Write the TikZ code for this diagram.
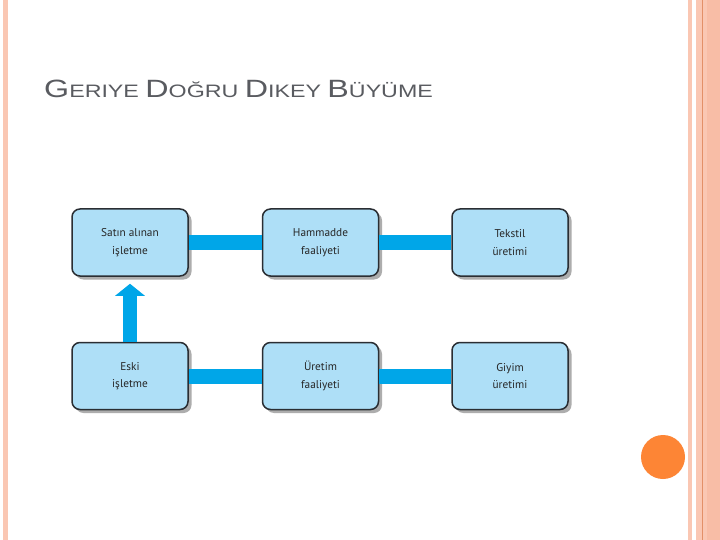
\documentclass[tikz,border=0pt]{standalone}
\usepackage{fontspec}
\setmainfont{Liberation Sans}
\newfontfamily\boxfont{PT Sans}
\usetikzlibrary{arrows.meta,shadows}
\definecolor{boxfill}{HTML}{AEDFF7}
\definecolor{boxline}{HTML}{2A2E33}
\definecolor{barblue}{HTML}{00A6E8}
\definecolor{salmon}{HTML}{FAC7B3}
\definecolor{salmondk}{HTML}{F8BDA6}
\definecolor{salmonline}{HTML}{E39068}
\definecolor{dotorange}{HTML}{FD8535}
\definecolor{titlegray}{HTML}{595B60}
\begin{document}
\begin{tikzpicture}[x=1pt,y=-1pt,
  stagebox/.style={draw=boxline,line width=1.5pt,fill=boxfill,rounded corners=8pt,
    minimum width=116pt,minimum height=67pt,align=center,inner sep=2pt,
    font=\boxfont\fontsize{11.3}{17.5}\selectfont,text=black!85,
    drop shadow={shadow xshift=3.5pt,shadow yshift=-3.5pt,fill=black!40,opacity=0.8}},
  bar/.style={draw=barblue,line width=15pt},
  uparrow/.style={draw=barblue,line width=14pt,-{Triangle[width=29pt,length=12pt]}}]
\useasboundingbox (0,0) rectangle (720,540);
\fill[white] (0,0) rectangle (720,540);
% side stripes
\fill[salmon] (3,0) rectangle (8,540);
\fill[salmon] (688,0) rectangle (692,540);
\fill[salmon] (696,0) rectangle (707,540);
\fill[salmondk] (707,0) rectangle (720,540);
\draw[salmonline,line width=0.8pt] (702,0) -- (702,540);
\fill[dotorange] (663,457) circle (22);
% title
\node[anchor=base west,inner sep=0,text=titlegray] (title) at (44,98)
  {\scalebox{1.29}[1]{\fontsize{25}{25}\selectfont G\fontsize{18}{18}\selectfont ERIYE
   \fontsize{25}{25}\selectfont D\fontsize{18}{18}\selectfont OĞRU
   \fontsize{25}{25}\selectfont D\fontsize{18}{18}\selectfont IKEY
   \fontsize{25}{25}\selectfont B\fontsize{18}{18}\selectfont ÜYÜME}};
% boxes
\node[stagebox] (satin) at (130,242.5) {Satın alınan\\işletme};
\node[stagebox] (hammadde) at (320.5,242.5) {Hammadde\\faaliyeti};
\node[stagebox] (tekstil) at (510,242.5) {Tekstil\\üretimi};
\node[stagebox] (eski) at (130,376) {Eski\\işletme};
\node[stagebox] (uretim) at (320.5,376) {Üretim\\faaliyeti};
\node[stagebox] (giyim) at (510,376) {Giyim\\üretimi};
% connectors
\draw[bar] (satin.east) -- (hammadde.west);
\draw[bar] (hammadde.east) -- (tekstil.west);
\draw[bar] (eski.east) -- (uretim.west);
\draw[bar] (uretim.east) -- (giyim.west);
\draw[uparrow] (eski.north) -- ([yshift=-7pt]satin.south);
\end{tikzpicture}
\end{document}
